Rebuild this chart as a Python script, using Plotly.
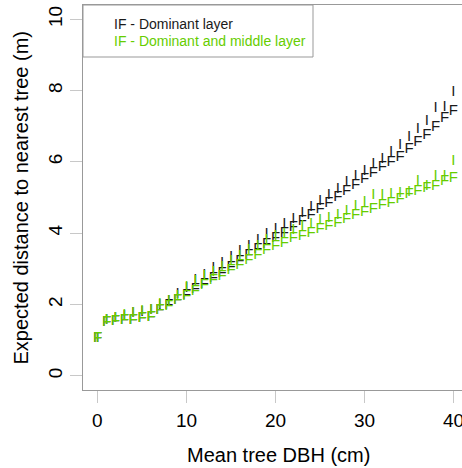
import plotly.graph_objects as go

x = list(range(0, 42))

dom_I = [1.05, 1.55, 1.60, 1.68, 1.74, 1.78, 1.83, 1.99, 2.10, 2.28, 2.45, 2.68, 2.83, 3.01, 3.16, 3.33,
         3.48, 3.64, 3.81, 3.96, 4.11, 4.24, 4.38, 4.56, 4.74, 4.89, 5.05, 5.22, 5.42, 5.59, 5.74,
         5.92, 6.07, 6.26, 6.46, 6.70, 6.92, 7.13, 7.51, 7.54, 7.94, 8.04]
dom_F = [1.05, 1.50, 1.53, 1.55, 1.57, 1.60, 1.65, 1.85, 1.97, 2.12, 2.27, 2.43, 2.58, 2.73, 2.88, 3.05,
         3.22, 3.38, 3.54, 3.70, 3.86, 4.01, 4.17, 4.34, 4.49, 4.66, 4.84, 5.01, 5.17, 5.35, 5.52,
         5.68, 5.84, 5.99, 6.14, 6.36, 6.56, 6.76, 6.98, 7.21, 7.42, 7.56]
mid_I = [1.05, 1.55, 1.62, 1.70, 1.76, 1.80, 1.85, 2.00, 2.08, 2.22, 2.48, 2.64, 2.78, 2.89, 3.05, 3.20,
         3.36, 3.51, 3.64, 3.80, 3.92, 3.96, 4.09, 4.19, 4.24, 4.37, 4.43, 4.50, 4.62, 4.75, 4.88,
         5.05, 5.07, 5.10, 5.12, 5.15, 5.45, 5.31, 5.60, 5.60, 6.01, 5.90]
mid_F = [1.05, 1.50, 1.53, 1.55, 1.57, 1.60, 1.65, 1.85, 1.96, 2.12, 2.22, 2.36, 2.53, 2.67, 2.80, 2.96,
         3.10, 3.25, 3.39, 3.52, 3.64, 3.73, 3.85, 3.91, 4.00, 4.11, 4.20, 4.28, 4.39, 4.49, 4.60,
         4.66, 4.78, 4.84, 4.94, 5.08, 5.18, 5.25, 5.32, 5.45, 5.55, 5.69]

x_ticks = [0, 10, 20, 30, 40]
y_ticks = [0, 2, 4, 6, 8, 10]
legend_labels = ["IF - Dominant layer", "IF - Dominant and middle layer"]

BLACK = "#1a1a1a"
GREEN = "#66CD00"
FONT = "Liberation Sans, Arial, sans-serif"

fig = go.Figure()
for ys, ch, col in [(dom_I, "I", BLACK), (dom_F, "F", BLACK), (mid_I, "I", GREEN), (mid_F, "F", GREEN)]:
    fig.add_trace(go.Scatter(x=x, y=ys, mode="text", text=[ch] * len(x),
                             textposition="middle center",
                             textfont=dict(family=FONT, size=15, color=col),
                             cliponaxis=False, showlegend=False, hoverinfo="skip"))

W, H = 462, 468
L, R, T, B = 83, 0, 5, 78
pw = W - L - R
ph = H - T - B

fig.update_layout(
    width=W, height=H,
    margin=dict(l=L, r=R, t=T, b=B, pad=0),
    paper_bgcolor="white", plot_bgcolor="white",
    font=dict(family=FONT, color="black"),
    xaxis=dict(range=[-1.64, 40.96], tickvals=x_ticks, showticklabels=False,
               showgrid=False, zeroline=False, showline=True, linecolor="#999999", linewidth=1,
               mirror=True, ticks="outside", ticklen=12, tickcolor="#c8c8c8", tickwidth=1,
               automargin=False),
    yaxis=dict(range=[-0.4, 10.4], tickvals=y_ticks, ticktext=[str(v) for v in y_ticks],
               showgrid=False, zeroline=False, showline=True, linecolor="#999999", linewidth=1,
               ticks="outside", ticklen=12, tickcolor="#c8c8c8", tickwidth=1, tickangle=-90,
               tickfont=dict(size=19, family=FONT), automargin=False),
)

# x tick labels (drawn as annotations so the edge label is kept)
for v in x_ticks:
    fig.add_annotation(xref="x", yref="paper", x=v, y=(390 - 421) / ph, text=str(v),
                       showarrow=False, xanchor="center", yanchor="middle",
                       font=dict(family=FONT, size=19, color="black"))

# legend box
lx1 = (313 - L) / pw
ly0 = (390 - 57) / ph
fig.add_shape(type="rect", xref="paper", yref="paper", x0=0, x1=lx1, y0=ly0, y1=1,
              line=dict(color="#999999", width=1), fillcolor="white", layer="below")
tx = (112 - L) / pw
for lab, col, py in [(legend_labels[0], BLACK, 24), (legend_labels[1], GREEN, 41)]:
    fig.add_annotation(xref="paper", yref="paper", x=tx, y=(390 - py) / ph, text=lab,
                       showarrow=False, xanchor="left", yanchor="middle",
                       font=dict(family=FONT, size=14, color=col))

# axis titles
fig.add_annotation(xref="x", yref="paper", x=20.3, y=(390 - 455) / ph, text="Mean tree DBH (cm)",
                   showarrow=False, xanchor="center", yanchor="middle",
                   font=dict(family=FONT, size=20, color="black"))
fig.add_annotation(xref="paper", yref="paper", x=(20 - L) / pw, y=0.5,
                   text="Expected distance to nearest tree (m)", textangle=-90,
                   showarrow=False, xanchor="center", yanchor="middle",
                   font=dict(family=FONT, size=20, color="black"))

fig.write_html("out.html", config={"displayModeBar": False},
               post_script="document.body.style.margin='0';document.body.style.padding='0';document.body.style.overflow='hidden';")
